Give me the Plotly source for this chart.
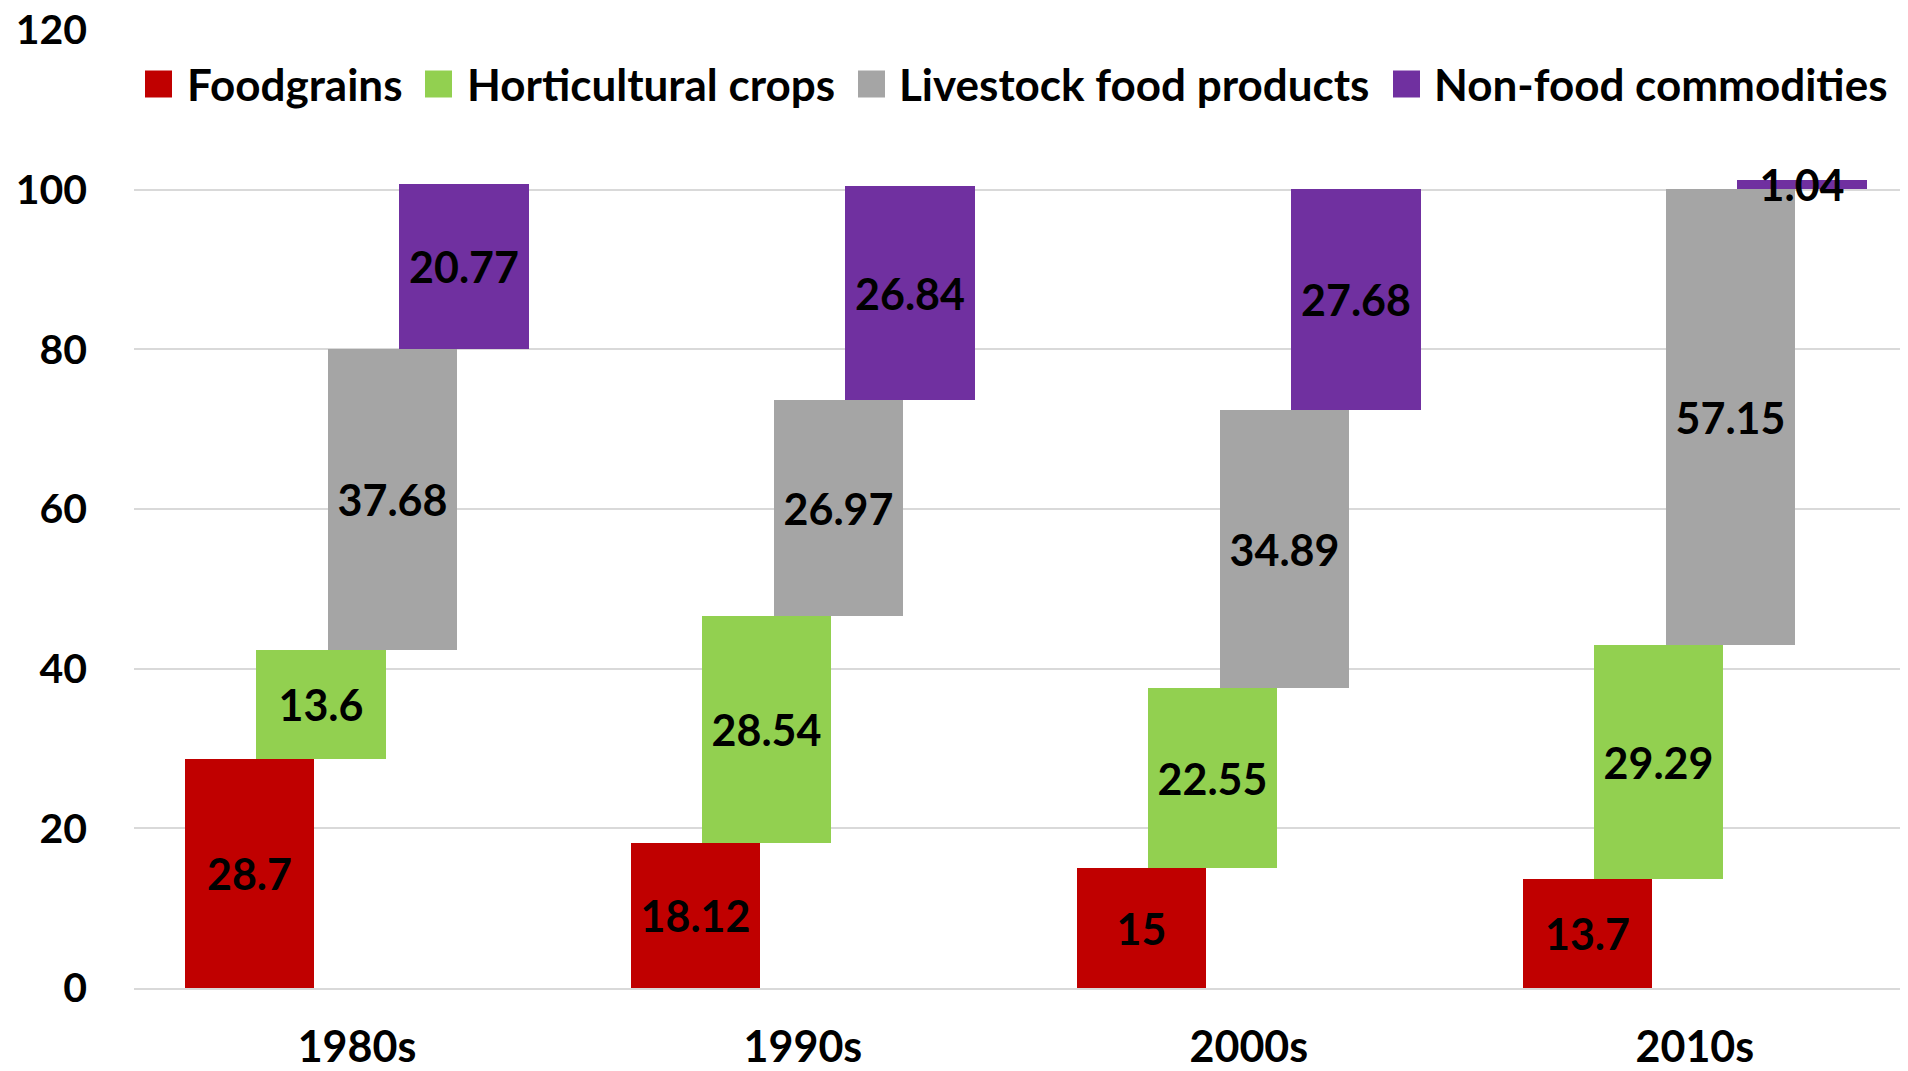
import numpy as np
import plotly.graph_objects as go

decades = ["1980s", "1990s", "2000s", "2010s"]
series_names = ["Foodgrains", "Horticultural crops", "Livestock food products", "Non-food commodities"]
foodgrains = [28.7, 18.12, 15, 13.7]
horticultural = [13.6, 28.54, 22.55, 29.29]
livestock = [37.68, 26.97, 34.89, 57.15]
nonfood = [20.77, 26.84, 27.68, 1.04]
y_ticks = [0, 20, 40, 60, 80, 100, 120]

colors = ["#C00000", "#92D050", "#A5A5A5", "#7030A0"]
offsets = [-0.241, -0.081, 0.080, 0.240]
FONT = "Lato, 'Open Sans', sans-serif"
FS = 43      # numbers
FS_Y = 41    # y tick labels
FS_LEG = 44  # legend text

# the page body has an 8px margin: size the figure so it fills the window exactly
PAGE_OFF = 8
W, H = 1908 - PAGE_OFF, 1071 - PAGE_OFF

all_series = [foodgrains, horticultural, livestock, nonfood]
base = np.zeros(len(decades))
fig = go.Figure()
xc = np.arange(len(decades))
for name, vals, col, off in zip(series_names, all_series, colors, offsets):
    v = np.array(vals, dtype=float)
    fig.add_trace(go.Bar(
        x=xc + off, y=v, base=base.copy(), width=0.29, name=name,
        marker=dict(color=col, line=dict(width=0)),
        text=[f"{t:g}" for t in vals], textposition="inside",
        insidetextanchor="middle", textangle=0, constraintext="none",
        textfont=dict(family=FONT, size=FS, color="black", weight="bold"),
        cliponaxis=False, showlegend=False,
    ))
    base = base + v

# plot area in page pixels
L, R, T, B = 134, 1908, 30, 988
Lf, Rf, Tf, Bf = L - PAGE_OFF, R - PAGE_OFF, T - PAGE_OFF, B - PAGE_OFF
def px(x):
    return (x - L) / (R - L)
def py(y):
    return (B - y) / (B - T)

legend_sq = [145, 425, 858, 1393]
legend_tx = [185, 465, 897, 1432]
legend_y = 84
sq = 27
for name, col, sx, tx in zip(series_names, colors, legend_sq, legend_tx):
    fig.add_shape(type="rect", xref="paper", yref="paper",
                  x0=px(sx), x1=px(sx + sq), y0=py(legend_y + sq / 2), y1=py(legend_y - sq / 2),
                  fillcolor=col, line=dict(width=0))
    fig.add_annotation(xref="paper", yref="paper", x=px(tx), y=py(legend_y),
                       xanchor="left", yanchor="middle", text=name, showarrow=False,
                       font=dict(family=FONT, size=FS_LEG, color="black", weight="bold"))

fig.update_layout(
    template="none",
    width=W, height=H,
    margin=dict(l=Lf, r=W - Rf, t=Tf, b=H - Bf, pad=0),
    paper_bgcolor="white", plot_bgcolor="white",
    barmode="overlay", bargap=0, showlegend=False,
    font=dict(family=FONT, size=FS, color="black"),
)
fig.update_xaxes(
    tickvals=list(xc), ticktext=decades, range=[-0.5, 3.478], automargin=False,
    showgrid=False, zeroline=False, showline=True, linecolor="#D9D9D9", linewidth=2,
    ticks="", ticklabelstandoff=20, ticklabeloverflow="allow",
    tickfont=dict(family=FONT, size=FS, color="black", weight="bold"),
)
fig.update_yaxes(
    range=[0, 120], tickvals=y_ticks, showgrid=True, gridcolor="#D9D9D9", gridwidth=2,
    automargin=False, zeroline=False, showline=False, ticks="", ticklabelstandoff=46,
    ticklabeloverflow="allow",
    tickfont=dict(family=FONT, size=FS_Y, color="black", weight="bold"),
)
fig.write_html("out.html")
